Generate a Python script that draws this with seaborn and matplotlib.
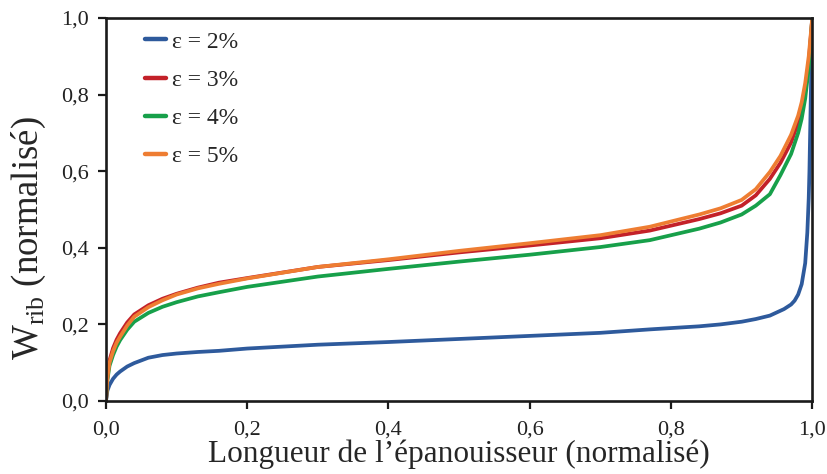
import numpy as np
import pandas as pd
import matplotlib
matplotlib.use("Agg")
import matplotlib.pyplot as plt
import seaborn as sns

# values (x and W_rib both normalised)
x_pts = [0.0, 0.002, 0.005, 0.01, 0.015, 0.02, 0.03, 0.04, 0.06, 0.08, 0.1, 0.13,
         0.16, 0.2, 0.3, 0.4, 0.5, 0.6, 0.7, 0.77, 0.84, 0.87, 0.9, 0.92, 0.94,
         0.955, 0.97, 0.98, 0.985, 0.99, 0.995, 1.0]
w_orange = [0.0, 0.06, 0.1, 0.13, 0.152, 0.168, 0.197, 0.22, 0.245, 0.263, 0.278,
            0.294, 0.306, 0.32, 0.35, 0.37, 0.392, 0.412, 0.433, 0.455, 0.487,
            0.503, 0.525, 0.553, 0.598, 0.64, 0.695, 0.745, 0.78, 0.83, 0.9, 1.0]
w_red = [0.0, 0.065, 0.106, 0.138, 0.16, 0.177, 0.205, 0.226, 0.25, 0.267, 0.28,
         0.296, 0.309, 0.321, 0.35, 0.368, 0.388, 0.406, 0.425, 0.445, 0.475,
         0.49, 0.51, 0.537, 0.58, 0.622, 0.675, 0.727, 0.762, 0.81, 0.885, 1.0]
w_green = [0.0, 0.055, 0.092, 0.12, 0.142, 0.159, 0.186, 0.207, 0.23, 0.246, 0.258,
           0.273, 0.284, 0.298, 0.325, 0.345, 0.364, 0.382, 0.402, 0.42, 0.45,
           0.466, 0.487, 0.51, 0.54, 0.59, 0.645, 0.7, 0.737, 0.79, 0.87, 1.0]

# blue curve needs its own grid, the jump at the end is much sharper
x_blue = [0.0, 0.002, 0.005, 0.01, 0.015, 0.02, 0.03, 0.04, 0.06, 0.08, 0.1, 0.13,
          0.16, 0.2, 0.3, 0.4, 0.5, 0.6, 0.7, 0.77, 0.84, 0.87, 0.9, 0.92, 0.94,
          0.96, 0.97, 0.975, 0.98, 0.985, 0.99, 0.993, 0.995, 0.996, 0.997, 0.998,
          0.999, 1.0]
w_blue = [0.0, 0.027, 0.042, 0.058, 0.069, 0.077, 0.09, 0.099, 0.113, 0.12, 0.124,
          0.128, 0.131, 0.137, 0.147, 0.154, 0.162, 0.17, 0.178, 0.187, 0.195, 0.2,
          0.207, 0.214, 0.223, 0.24, 0.252, 0.262, 0.278, 0.305, 0.36, 0.44, 0.53,
          0.6, 0.7, 0.8, 0.9, 1.0]

labels = ["ε = 2%", "ε = 3%", "ε = 4%", "ε = 5%"]
colors = ["#2E5A9C", "#C32129", "#17A04A", "#EE7D32"]
tick_vals = [0.0, 0.2, 0.4, 0.6, 0.8, 1.0]
tick_labels = ["0,0", "0,2", "0,4", "0,6", "0,8", "1,0"]

frames = [
    pd.DataFrame({"x": x_blue, "w": w_blue, "eps": labels[0]}),
    pd.DataFrame({"x": x_pts, "w": w_red, "eps": labels[1]}),
    pd.DataFrame({"x": x_pts, "w": w_green, "eps": labels[2]}),
    pd.DataFrame({"x": x_pts, "w": w_orange, "eps": labels[3]}),
]
df = pd.concat(frames, ignore_index=True)

sns.set_style("white")
plt.rcParams["font.family"] = ["Liberation Serif", "DejaVu Serif"]
plt.rcParams["mathtext.fontset"] = "custom"
plt.rcParams["mathtext.rm"] = "Liberation Serif"

fig, ax = plt.subplots(figsize=(8.28, 4.74), dpi=100)
fig.subplots_adjust(left=0.128, right=0.981, top=0.962, bottom=0.154)

sns.lineplot(data=df, x="x", y="w", hue="eps", hue_order=labels,
             palette=dict(zip(labels, colors)), linewidth=2.7, ax=ax,
             estimator=None, sort=False)

ax.set_xlim(0, 1)
ax.set_ylim(0, 1)
ax.set_xticks(tick_vals)
ax.set_xticklabels(tick_labels)
ax.set_yticks(tick_vals)
ax.set_yticklabels(tick_labels)
ax.tick_params(axis="both", direction="out", length=6, width=1.6,
               labelsize=16, colors="#1a1a1a", labelcolor="#222222", pad=6,
               bottom=True, left=True, top=False, right=False)
ax.tick_params(axis="x", pad=8)
for s in ax.spines.values():
    s.set_color("#1a1a1a")
    s.set_linewidth(1.9)

ax.set_xlabel("Longueur de l’épanouisseur (normalisé)", fontsize=22.5, labelpad=0)
ax.set_ylabel(r"W$_{\mathrm{rib}}$ (normalisé)", fontsize=26.5)
ax.yaxis.set_label_coords(-0.082, 0.426)

leg = ax.legend(loc="upper left", bbox_to_anchor=(0.025, 1.021), frameon=False,
                fontsize=17, handlelength=0.9, handletextpad=0.25,
                labelspacing=0.7)
for line in leg.get_lines():
    line.set_linewidth(3.2)

fig.savefig("out.png", dpi=100)
